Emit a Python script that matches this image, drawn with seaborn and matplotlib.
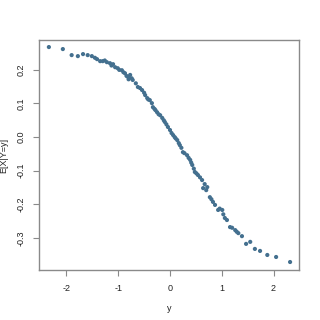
import matplotlib
matplotlib.use("Agg")
import matplotlib.pyplot as plt
import seaborn as sns
import pandas as pd

y_vals = [-2.34, -2.07, -1.90, -1.78, -1.68, -1.59, -1.51, -1.45, -1.41, -1.35, -1.30, -1.26,
          -1.22, -1.16, -1.13, -1.10, -1.06, -1.01, -0.98, -0.93, -0.90, -0.87, -0.84, -0.81,
          -0.80, -0.77, -0.74, -0.72, -0.66, -0.62, -0.58, -0.54, -0.50, -0.48, -0.44, -0.42,
          -0.39, -0.35, -0.33, -0.30, -0.28, -0.25, -0.22, -0.19, -0.15, -0.12, -0.10, -0.07,
          -0.04, 0.00, 0.03, 0.06, 0.09, 0.11, 0.14, 0.17, 0.19, 0.22, 0.25, 0.28, 0.33, 0.36,
          0.39, 0.41, 0.43, 0.46, 0.48, 0.51, 0.54, 0.58, 0.62, 0.64, 0.67, 0.70, 0.72, 0.77,
          0.80, 0.83, 0.87, 0.93, 0.96, 1.01, 1.03, 1.06, 1.10, 1.16, 1.20, 1.26, 1.29, 1.32,
          1.39, 1.47, 1.55, 1.64, 1.74, 1.88, 2.05, 2.32]
e_vals = [0.268, 0.262, 0.244, 0.241, 0.247, 0.244, 0.241, 0.236, 0.232, 0.226, 0.226, 0.228,
          0.223, 0.220, 0.213, 0.217, 0.208, 0.205, 0.200, 0.199, 0.193, 0.190, 0.182, 0.179,
          0.172, 0.185, 0.175, 0.170, 0.160, 0.149, 0.146, 0.140, 0.132, 0.125, 0.116, 0.112,
          0.110, 0.101, 0.089, 0.084, 0.080, 0.074, 0.068, 0.065, 0.057, 0.050, 0.045, 0.038,
          0.030, 0.021, 0.012, 0.006, 0.000, -0.004, -0.009, -0.018, -0.024, -0.032, -0.045,
          -0.048, -0.054, -0.062, -0.068, -0.076, -0.083, -0.094, -0.104, -0.108, -0.113,
          -0.120, -0.128, -0.152, -0.140, -0.158, -0.149, -0.179, -0.185, -0.193, -0.202,
          -0.217, -0.213, -0.217, -0.230, -0.241, -0.247, -0.268, -0.270, -0.277, -0.282,
          -0.286, -0.295, -0.318, -0.312, -0.333, -0.339, -0.351, -0.357, -0.372]

x_ticks = [-2, -1, 0, 1, 2]
y_ticks = [-0.3, -0.2, -0.1, 0.0, 0.1, 0.2]

df = pd.DataFrame({"y": y_vals, "E": e_vals})

sns.set_style("white")
plt.rcParams['font.family'] = ['Liberation Sans', 'DejaVu Sans']

fig = plt.figure(figsize=(3.2, 3.2), dpi=100)
ax = fig.add_axes([0.122, 0.156, 0.812, 0.719])
sns.scatterplot(data=df, x="y", y="E", ax=ax, color="#44708f", s=9,
                edgecolor="none", linewidth=0)

ax.set_xlim(-2.53, 2.49)
ax.set_ylim(-0.396, 0.289)
ax.set_xticks(x_ticks)
ax.set_xticklabels([f"{t:d}" for t in x_ticks])
ax.set_yticks(y_ticks)
ax.set_yticklabels([f"{t:.1f}" for t in y_ticks], rotation=90, va="center")
for s in ax.spines.values():
    s.set_color("#8a8a8a")
    s.set_linewidth(1.0)
ax.tick_params(axis="both", which="both", direction="out", length=4, width=0.8,
               color="#8a8a8a", labelsize=6.5, labelcolor="#222222", pad=6,
               bottom=True, left=True)
ax.set_xlabel("y", fontsize=6.5, color="#222222", labelpad=8)
ax.set_ylabel("E[X|Y=y]", fontsize=6.5, color="#222222", labelpad=6)

fig.savefig("out.png", dpi=100)
